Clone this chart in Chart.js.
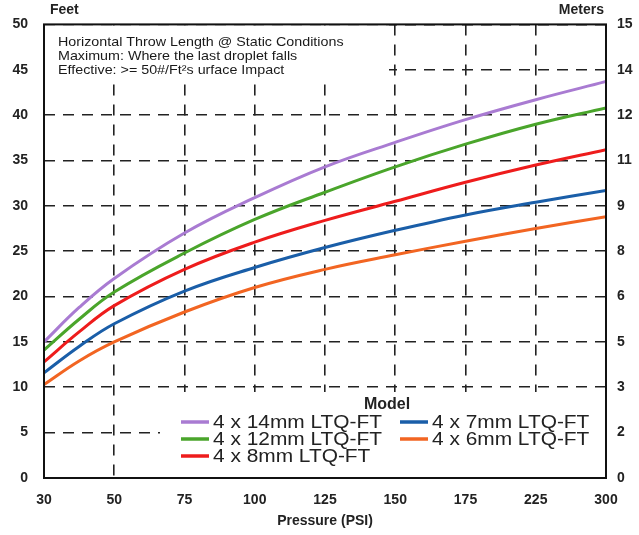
<!DOCTYPE html>
<html>
<head>
<meta charset="utf-8">
<script src="https://cdn.jsdelivr.net/npm/chart.js@4.4.1/dist/chart.umd.min.js"></script>
<style>
  html, body { margin: 0; padding: 0; background: #fff; }
  #wrap { width: 639px; height: 535px; }
</style>
</head>
<body>
<div id="wrap"><canvas id="chart"></canvas></div>
<script>
// pressure tick labels (evenly spaced on the chart)
const pressureLabels = ['30', '50', '75', '100', '125', '150', '175', '225', '300'];
// position of each sample along the pressure axis (0 = 30 psi, 8 = 300 psi)
const samplePos = [0, 0.5, 1, 2, 3, 4, 5, 6, 7, 8];
// right axis labels (meters), one per feet gridline
const meterLabels = ['0', '2', '3', '5', '6', '8', '9', '11', '12', '14', '15'];

const models = ['4 x 14mm LTQ-FT', '4 x 12mm LTQ-FT', '4 x 8mm LTQ-FT', '4 x 7mm LTQ-FT', '4 x 6mm LTQ-FT'];
const colors = ['#a97bd2', '#4aa52b', '#ee1c1c', '#1a5ea8', '#f26522'];

// throw length in feet
const throw14mm = [15.0, 18.8, 22.0, 27.0, 30.9, 34.3, 37.0, 39.5, 41.7, 43.7];
const throw12mm = [14.1, 17.5, 20.5, 24.8, 28.5, 31.5, 34.3, 36.8, 39.0, 40.8];
const throw8mm  = [12.8, 16.1, 19.0, 23.0, 26.0, 28.4, 30.5, 32.6, 34.5, 36.2];
const throw7mm  = [11.6, 14.5, 17.0, 20.6, 23.2, 25.4, 27.3, 29.0, 30.4, 31.7];
const throw6mm  = [10.3, 12.9, 15.0, 18.3, 21.0, 23.0, 24.6, 26.1, 27.5, 28.8];

const notes = [
  'Horizontal Throw Length @ Static Conditions',
  'Maximum: Where the last droplet falls',
  'Effective: >= 50#/Ft\u00B2s urface Impact'
];

const FONT = "'Liberation Sans', Arial, sans-serif";

function series(vals) {
  return vals.map((v, i) => ({ x: samplePos[i], y: v }));
}

const allSeries = [throw14mm, throw12mm, throw8mm, throw7mm, throw6mm];
const datasets = allSeries.map((vals, i) => ({
  label: models[i],
  data: series(vals),
  borderColor: colors[i],
  backgroundColor: colors[i],
  borderWidth: 3,
  pointRadius: 0,
  tension: 0.4,
  yAxisID: 'y'
}));

// text drawn a bit wider than the font, like the scanned original
function wideText(ctx, text, x, y, sx) {
  ctx.save();
  ctx.translate(x, y);
  ctx.scale(sx, 1);
  ctx.fillText(text, 0, 0);
  ctx.restore();
}

const overlay = {
  id: 'overlay',
  beforeDatasetsDraw(chart) {
    const { ctx, chartArea: a } = chart;
    ctx.save();
    ctx.fillStyle = '#fff';
    // boxes behind the notes and the legend hide the grid
    ctx.fillRect(a.left + 1, a.top + 1, 344, 57);
    ctx.fillRect(160, 392, a.right - 161, a.bottom - 393);
    ctx.restore();
  },
  afterDraw(chart) {
    const { ctx, chartArea: a } = chart;
    ctx.save();
    // frame
    ctx.strokeStyle = '#111';
    ctx.lineWidth = 2;
    ctx.strokeRect(a.left, a.top, a.right - a.left, a.bottom - a.top);

    // unit labels
    ctx.fillStyle = '#222';
    ctx.font = 'bold 14px ' + FONT;
    ctx.textBaseline = 'middle';
    ctx.textAlign = 'left';
    ctx.fillText('Feet', 50, 10);
    ctx.textAlign = 'right';
    ctx.fillText('Meters', 604, 10);

    // notes
    ctx.textAlign = 'left';
    ctx.font = '13px ' + FONT;
    ctx.fillStyle = '#1a1a1a';
    notes.forEach((t, i) => wideText(ctx, t, 58, 42 + i * 14, 1.1));

    // legend
    ctx.font = 'bold 16px ' + FONT;
    ctx.textAlign = 'center';
    ctx.fillStyle = '#222';
    ctx.fillText('Model', 387, 405);
    ctx.font = '18px ' + FONT;
    ctx.textAlign = 'left';
    chart.data.datasets.forEach((ds, i) => {
      const col = Math.floor(i / 3), row = i % 3;
      const x = col === 0 ? 181 : 400;
      const y = 422 + row * 17;
      ctx.strokeStyle = ds.borderColor;
      ctx.lineWidth = 3.5;
      ctx.beginPath();
      ctx.moveTo(x, y);
      ctx.lineTo(x + 28, y);
      ctx.stroke();
      ctx.fillStyle = '#222';
      wideText(ctx, ds.label, x + 32, y + 1, 1.16);
    });
    ctx.restore();
  }
};

new Chart(document.getElementById('chart'), {
  type: 'line',
  data: { datasets },
  plugins: [overlay],
  options: {
    responsive: true,
    maintainAspectRatio: false,
    animation: false,
    layout: { padding: { top: 23, left: 0, right: 0, bottom: 0 } },
    plugins: { legend: { display: false }, tooltip: { enabled: false } },
    scales: {
      x: {
        type: 'linear',
        min: 0,
        max: 8,
        afterFit: s => { s.height = 57; },
        afterBuildTicks: s => { s.ticks = pressureLabels.map((_, i) => ({ value: i })); },
        ticks: {
          callback: v => pressureLabels[v],
          font: { family: FONT, size: 14, weight: 'bold' },
          color: '#222',
          padding: 14,
          maxRotation: 0,
          autoSkip: false
        },
        grid: { color: '#222', lineWidth: 1.6, drawTicks: false },
        border: { display: false, dash: [11, 9] },
        title: {
          display: true,
          text: 'Pressure (PSI)',
          font: { family: FONT, size: 14, weight: 'bold' },
          color: '#222',
          padding: { top: 0, bottom: 5 }
        }
      },
      y: {
        position: 'left',
        min: 0,
        max: 50,
        afterFit: s => { s.width = 44; },
        ticks: {
          stepSize: 5,
          font: { family: FONT, size: 14, weight: 'bold' },
          color: '#222',
          padding: 16
        },
        grid: { color: '#222', lineWidth: 1.6, drawTicks: false },
        border: { display: false, dash: [11, 8] }
      },
      y2: {
        position: 'right',
        min: 0,
        max: 50,
        afterFit: s => { s.width = 33; },
        ticks: {
          stepSize: 5,
          callback: (v, i) => meterLabels[i],
          font: { family: FONT, size: 14, weight: 'bold' },
          color: '#222',
          padding: 11
        },
        grid: { drawOnChartArea: false, drawTicks: false },
        border: { display: false }
      }
    }
  }
});
</script>
</body>
</html>
